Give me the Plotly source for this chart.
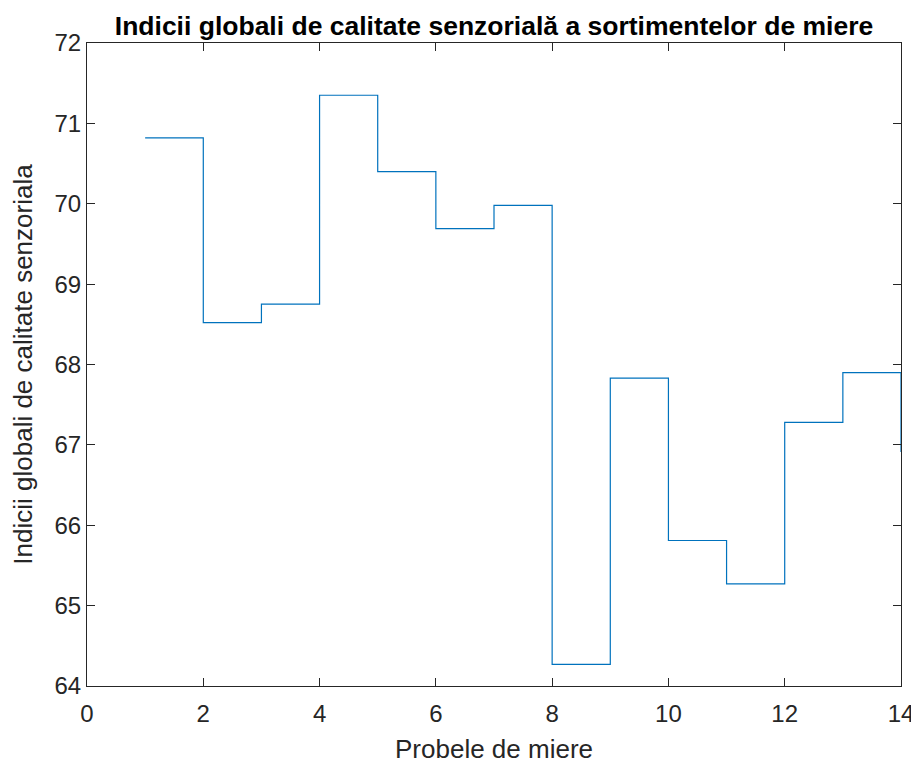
import plotly.graph_objects as go

samples = list(range(1, 15))
values = [70.82, 68.52, 68.75, 71.35, 70.40, 69.69, 69.98, 64.27, 67.83, 65.81, 65.27, 67.28, 67.90, 66.91]
x_ticks = [0, 2, 4, 6, 8, 10, 12, 14]
y_ticks = [64, 65, 66, 67, 68, 69, 70, 71, 72]

fig = go.Figure()
fig.add_trace(go.Scatter(x=samples, y=values, mode="lines", line=dict(shape="hv", color="#0072BD", width=1.2),
                         showlegend=False))
font = "Liberation Sans, Arial, sans-serif"
axis_common = dict(showline=True, linecolor="#262626", linewidth=1, mirror="ticks", ticks="inside",
                   ticklen=8, tickcolor="#262626", tickwidth=1, showgrid=False, zeroline=False,
                   automargin=False,
                   tickfont=dict(family=font, size=24, color="#262626"))
fig.update_layout(
    width=911, height=756,
    margin=dict(l=79, r=18, t=35, b=78),
    paper_bgcolor="white", plot_bgcolor="white",
    title=dict(text="<b>Indicii globali de calitate senzorială a sortimentelor de miere</b>",
               x=0.5, xref="paper", y=0.977, yanchor="middle",
               font=dict(family=font, size=26.5, color="black")),
    xaxis=dict(range=[0, 14], tickvals=x_ticks, ticklabelstandoff=6,
               title=dict(text="Probele de miere", font=dict(family=font, size=26, color="#262626"), standoff=14),
               **axis_common),
    yaxis=dict(range=[64, 72], tickvals=y_ticks,
               title=dict(text="Indicii globali de calitate senzoriala", font=dict(family=font, size=26, color="#262626"), standoff=14),
               **axis_common),
)
fig.write_html("out.html")
